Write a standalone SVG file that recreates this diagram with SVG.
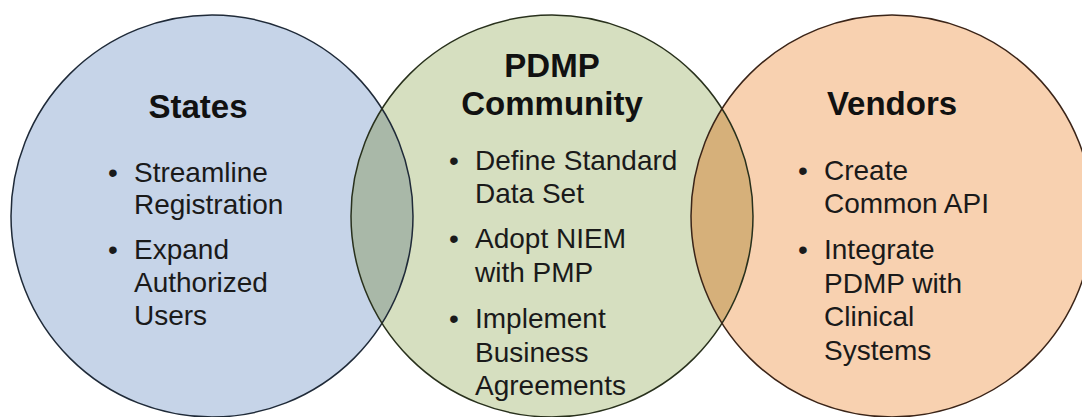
<svg xmlns="http://www.w3.org/2000/svg" width="1082" height="417" viewBox="0 0 1082 417">
<style>
.c{stroke:none}
.o{fill:none;stroke-width:1.5}
.h{font-family:"Liberation Sans",Arial,sans-serif;font-weight:bold;font-size:33px;fill:#111;text-anchor:middle}
.t{font-family:"Liberation Sans",Arial,sans-serif;font-size:28px;fill:#1a1a1a}
</style>
<rect width="1082" height="417" fill="#ffffff"/>
<g id="fills">
<circle class="c" cx="212" cy="216" r="201" fill="#c6d4e8"/>
<circle class="c" cx="552" cy="216" r="201" fill="#d6dfc0"/>
<circle class="c" cx="892" cy="216" r="201" fill="#f8d1b0"/>
<path d="M382,108.8 A201,201 0 0 0 382,323.2 A201,201 0 0 0 382,108.8 Z" fill="#a9b8a8"/>
<path d="M722,108.8 A201,201 0 0 0 722,323.2 A201,201 0 0 0 722,108.8 Z" fill="#d6b07a"/>
</g>
<g id="states">
<circle class="o" cx="212" cy="216" r="201" stroke="#1f2a38"/>
<text class="h" x="198" y="118">States</text>
<text class="t"><tspan x="108" y="182">•</tspan><tspan x="134" y="182">Streamline</tspan><tspan x="134" y="214">Registration</tspan><tspan x="108" y="259">•</tspan><tspan x="134" y="259">Expand</tspan><tspan x="134" y="292">Authorized</tspan><tspan x="134" y="325">Users</tspan></text>
</g>
<g id="pdmp">
<circle class="o" cx="552" cy="216" r="201" stroke="#28301c"/>
<text class="h" x="552" y="77">PDMP</text>
<text class="h" x="552" y="115">Community</text>
<text class="t"><tspan x="449" y="170">•</tspan><tspan x="475" y="170">Define Standard</tspan><tspan x="475" y="203">Data Set</tspan><tspan x="449" y="248">•</tspan><tspan x="475" y="248">Adopt NIEM</tspan><tspan x="475" y="282">with PMP</tspan><tspan x="449" y="328">•</tspan><tspan x="475" y="328">Implement</tspan><tspan x="475" y="362">Business</tspan><tspan x="475" y="395">Agreements</tspan></text>
</g>
<g id="vendors">
<circle class="o" cx="892" cy="216" r="201" stroke="#3a2418"/>
<text class="h" x="892" y="115">Vendors</text>
<text class="t"><tspan x="798" y="180">•</tspan><tspan x="824" y="180">Create</tspan><tspan x="824" y="213">Common API</tspan><tspan x="798" y="259">•</tspan><tspan x="824" y="259">Integrate</tspan><tspan x="824" y="293">PDMP with</tspan><tspan x="824" y="326">Clinical</tspan><tspan x="824" y="360">Systems</tspan></text>
</g>
<g id="connectors"/>
</svg>
